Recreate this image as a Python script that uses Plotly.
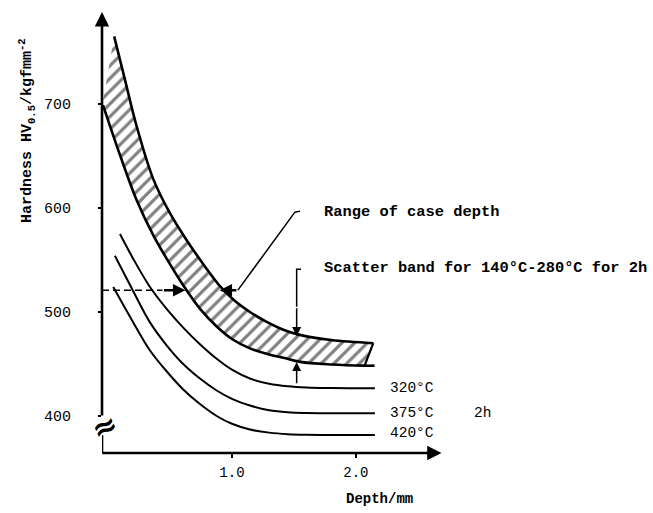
import plotly.graph_objects as go

# ---- data ----
band_upper_d = [0.05, 0.14, 0.226, 0.365, 0.5, 0.635, 0.769, 0.903, 1.02, 1.145, 1.28, 1.414, 1.548, 1.8, 2.14]
band_upper_v = [765, 722, 681, 628, 595, 569, 546, 525, 511, 500, 490.5, 483, 478, 473, 470]
band_lower_d = [-0.04, 0.10, 0.23, 0.365, 0.5, 0.6, 0.75, 0.877, 1.0, 1.145, 1.3, 1.414, 1.55, 1.8, 2.07, 2.15]
band_lower_v = [699, 650, 608, 574, 546, 527, 502, 486, 474, 465, 459, 456, 452, 449.5, 448.4, 448.4]
hatch_left_d = [-0.045, -0.045]
hatch_left_v = [699, 752]

d320 = [0.097, 0.2, 0.339, 0.473, 0.607, 0.742, 0.877, 1.0, 1.145, 1.3, 1.45, 1.6, 1.8, 2.153]
v320 = [575, 552, 524, 503, 485, 469, 455, 444.5, 436, 431, 428.5, 427.3, 426.8, 426.6]
d375 = [0.056, 0.204, 0.339, 0.473, 0.607, 0.742, 0.877, 1.0, 1.145, 1.3, 1.45, 1.6, 1.8, 2.153]
v375 = [554, 520, 490, 468, 450, 436, 424.5, 416.5, 410, 405.5, 403.5, 402.8, 402.6, 402.6]
d420 = [0.043, 0.204, 0.339, 0.473, 0.607, 0.742, 0.877, 1.0, 1.145, 1.3, 1.45, 1.6, 1.8, 2.153]
v420 = [524, 490, 463, 443, 425.5, 411.5, 400, 392.5, 387, 384, 382.5, 381.9, 381.7, 381.7]

curve_labels = ["320°C", "375°C", "420°C"]
curve_label_v = [426.6, 402.6, 383.4]
y_ticks = [400, 500, 600, 700]
x_ticks = [1.0, 2.0]
x_tick_text = ["1.0", "2.0"]

case_depth_v = 521          # dashed level of case-depth range
case_depth_left = 0.625     # band lower edge at that level
case_depth_right = 0.90     # band upper edge at that level
scatter_d = 1.522           # position of the scatter band indicator

X0, X1 = -0.048, 4.396
Y0, Y1 = 364.4, 790.4
X_ARROW = 2.69

FONT = "Liberation Mono"
BLACK = "black"

fig = go.Figure()

# hatched band fill
poly_d = band_upper_d + band_lower_d[-2::-1] + hatch_left_d[::-1]
poly_v = band_upper_v + band_lower_v[-2::-1] + hatch_left_v[::-1]
fig.add_trace(go.Scatter(
    x=poly_d, y=poly_v, mode="lines", fill="toself",
    fillcolor="white", line=dict(width=0),
    fillpattern=dict(shape="/", size=9, solidity=0.35, fgcolor=BLACK, bgcolor="white"),
    hoverinfo="skip", showlegend=False))
# band edges
edge = dict(color=BLACK, width=2.6, shape="spline", smoothing=1.0)
fig.add_trace(go.Scatter(x=band_upper_d, y=band_upper_v, mode="lines", line=edge, showlegend=False))
fig.add_trace(go.Scatter(x=band_lower_d, y=band_lower_v, mode="lines", line=edge, showlegend=False))
fig.add_trace(go.Scatter(x=[band_upper_d[-1], band_lower_d[-2]], y=[band_upper_v[-1], band_lower_v[-2]],
                         mode="lines", line=dict(color=BLACK, width=2.2), showlegend=False))

for dd, vv in [(d320, v320), (d375, v375), (d420, v420)]:
    fig.add_trace(go.Scatter(x=dd, y=vv, mode="lines",
                             line=dict(color=BLACK, width=2, shape="spline", smoothing=1.0),
                             showlegend=False))

# dashed reference line
fig.add_trace(go.Scatter(x=[X0, 0.44], y=[case_depth_v, case_depth_v], mode="lines",
                         line=dict(color=BLACK, width=1.5, dash="7px,4px"), showlegend=False))
# leader line
fig.add_trace(go.Scatter(x=[1.048, 1.508, 1.55], y=[case_depth_v, 596, 597], mode="lines",
                         line=dict(color=BLACK, width=1.5), showlegend=False))
# scatter band hook
fig.add_trace(go.Scatter(x=[scatter_d, scatter_d, scatter_d + 0.035], y=[505, 541, 541], mode="lines",
                         line=dict(color=BLACK, width=1.5), showlegend=False))

ann = []
def arrow(x, y, ax, ay, w=2, size=1.0, head=2):
    ann.append(dict(x=x, y=y, ax=ax, ay=ay, xref="x", yref="y", axref="x", ayref="y",
                    text="", showarrow=True, arrowhead=head, arrowsize=size,
                    arrowwidth=w, arrowcolor=BLACK, standoff=0, startstandoff=0))

# axes
arrow(X0, Y1 - 2, X0, 399, w=2.6, size=1.1)
arrow(X_ARROW, Y0, X0 - 0.01, Y0, w=2.6, size=1.1)
# case depth arrows
arrow(case_depth_left, case_depth_v, 0.44, case_depth_v, w=2.5, size=1.0)
arrow(case_depth_right, case_depth_v, 1.048, case_depth_v, w=2.5, size=1.0)
# scatter band arrows
arrow(scatter_d, 477, scatter_d, 505, w=1.5, size=1.2)
arrow(scatter_d, 452, scatter_d, 430, w=1.5, size=1.2)

def label(x, y, text, size=15, bold=False, xref="x", yref="y", xanchor="left", angle=0, family=FONT):
    ann.append(dict(x=x, y=y, xref=xref, yref=yref, text=text, showarrow=False,
                    xanchor=xanchor, yanchor="middle", textangle=angle,
                    font=dict(family=family, size=size, color=BLACK,
                              weight="bold" if bold else "normal")))

label(1.723, 596, "Range of case depth", size=15.4, bold=True)
label(1.723, 542, "Scatter band for 140°C-280°C for 2h", size=15.4, bold=True)
for txt, vv in zip(curve_labels, curve_label_v):
    label(2.258, vv, txt, size=14.5)
label(2.94, 402.6, "2h", size=14.5)
label(0.5045, -0.104, "Depth/mm", size=14, bold=True, xref="paper", yref="paper", xanchor="center")
label(-0.136, 0.727, "Hardness HV<sub>0.5</sub>/kgfmm<sup>-2</sup>", size=15, bold=True,
      xref="paper", yref="paper", xanchor="center", angle=-90)
# axis break symbol
label(X0 + 0.02, 389.5, "≈", size=30, bold=True, xanchor="center", angle=-25, family="DejaVu Sans")

# lower axis segment below the break
shapes = [
    dict(type="line", xref="x", yref="y", x0=X0, x1=X0, y0=Y0, y1=381.5,
         line=dict(color=BLACK, width=2.6)),
]

fig.update_layout(
    width=653, height=513,
    margin=dict(l=102, r=0, t=10, b=60),
    plot_bgcolor="white", paper_bgcolor="white",
    annotations=ann, shapes=shapes, showlegend=False,
    xaxis=dict(range=[X0, X1], showgrid=False, zeroline=False, showline=False,
               tickvals=x_ticks, ticktext=x_tick_text, ticks="outside", ticklen=4,
               tickwidth=1.5, tickcolor=BLACK, ticklabelstandoff=2,
               tickfont=dict(family=FONT, size=14, color=BLACK)),
    yaxis=dict(range=[Y0, Y1], showgrid=False, zeroline=False, showline=False,
               tickvals=y_ticks, ticks="outside", ticklen=3, tickwidth=1.5,
               tickcolor=BLACK, ticklabelstandoff=24,
               tickfont=dict(family=FONT, size=15, color=BLACK)),
)

fig.write_html("out.html")
